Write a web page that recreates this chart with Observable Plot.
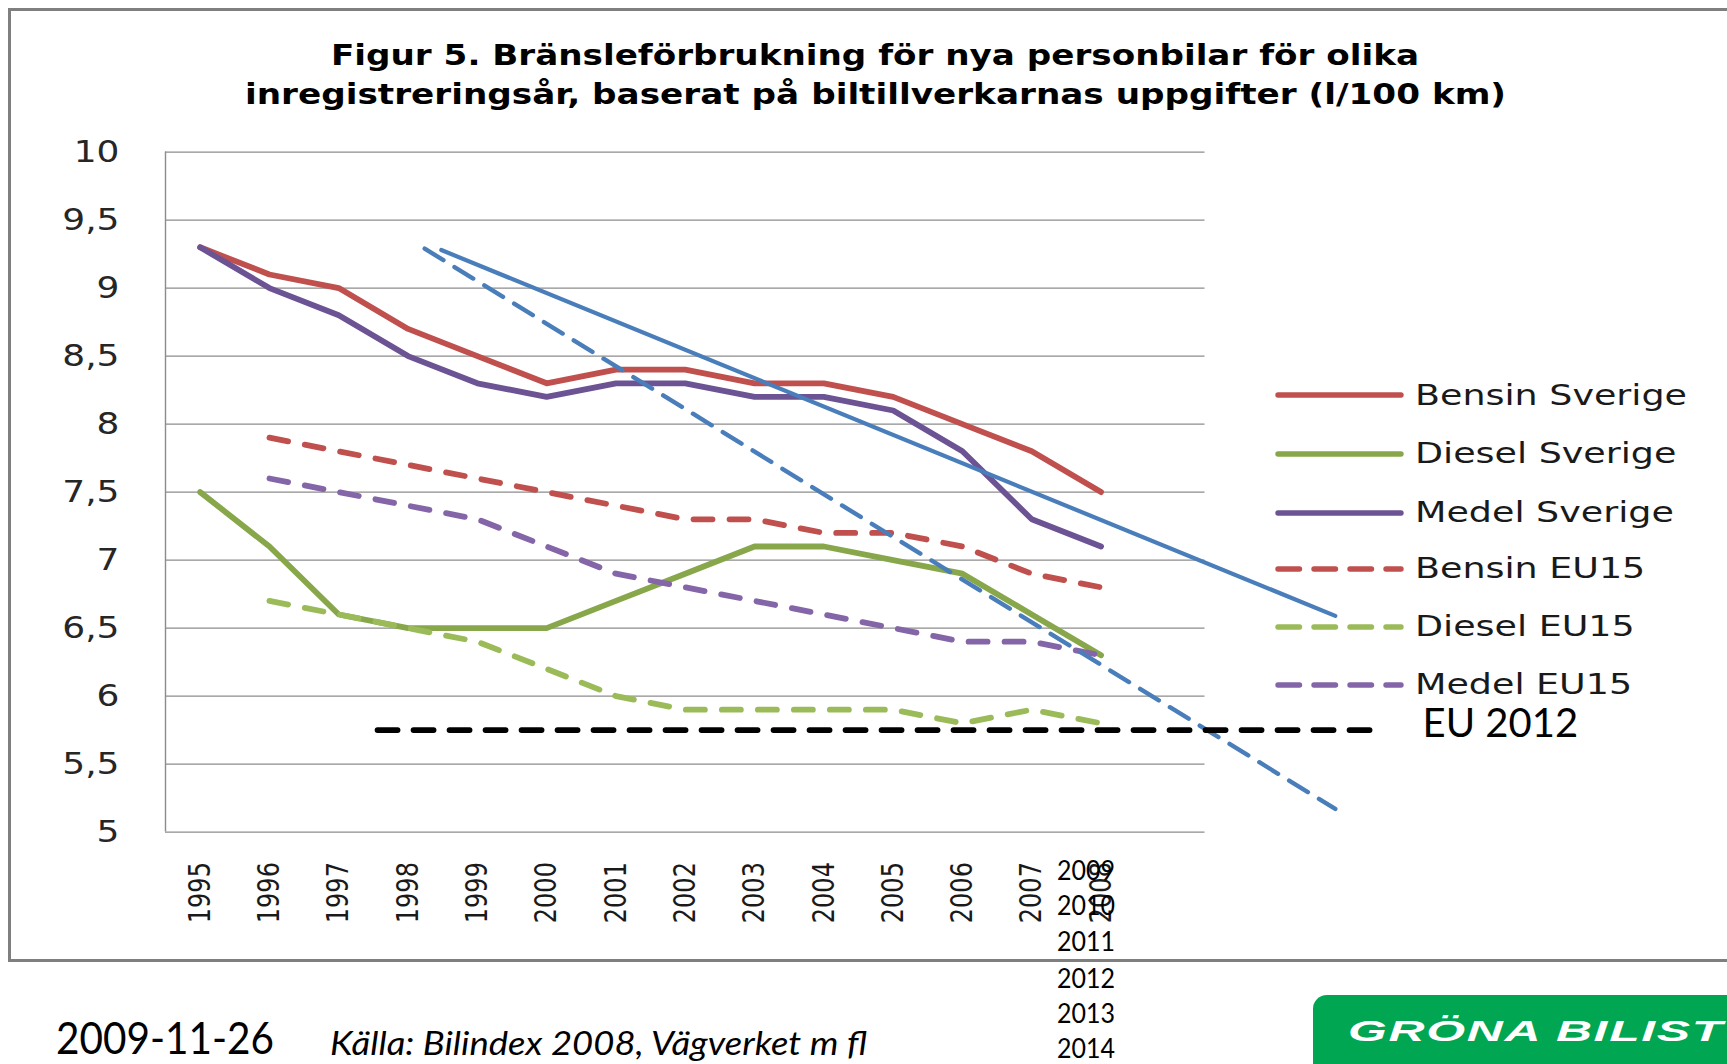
<!DOCTYPE html>
<html>
<head>
<meta charset="utf-8">
<script src="https://cdn.jsdelivr.net/npm/d3@7"></script>
<script src="https://cdn.jsdelivr.net/npm/@observablehq/plot@0.6"></script>
<style>
  html, body { margin: 0; padding: 0; background: #fff; }
  #page { position: relative; width: 1727px; height: 1064px; overflow: hidden; background: #fff; }
  #frame { position: absolute; left: 8px; top: 8px; width: 1800px; height: 947.6px; border: 3.7px solid #7f7f7f; border-right: none; }
  #chart { position: absolute; left: 0; top: 0; }
  .txt { position: absolute; left: 0; top: 0; white-space: nowrap; line-height: normal; }
  .title { font-family: "DejaVu Sans", Verdana, sans-serif; font-weight: bold; font-size: 28px; color: #000; }
  .leg { font-family: "DejaVu Sans", Verdana, sans-serif; font-size: 28.5px; color: #1a1a1a; }
  .sw { position: absolute; }
  .cal { font-family: Lato, "Open Sans", sans-serif; color: #000; }
  .yr { font-size: 26px; }
  .date { font-size: 44px; }
  .src { font-size: 33px; font-style: italic; }
  #logo { position: absolute; left: 1313px; top: 995px; width: 500px; height: 120px; border-radius: 14px; background: #00a651; }
  .logotxt { font-family: "Liberation Sans", Arial, sans-serif; font-weight: bold; font-style: italic; font-size: 30px; letter-spacing: 1px; color: #fff; }
</style>
</head>
<body>
<div id="page">
  <div id="frame"></div>
  <div id="chart"></div>
  <div id="logo"></div>
</div>
<script>
// ---------- data ----------
const years = [1995, 1996, 1997, 1998, 1999, 2000, 2001, 2002, 2003, 2004, 2005, 2006, 2007, 2008];
const eu15Years = [1996, 1997, 1998, 1999, 2000, 2001, 2002, 2003, 2004, 2005, 2006, 2007, 2008];

const bensinSverige = [9.3, 9.1, 9.0, 8.7, 8.5, 8.3, 8.4, 8.4, 8.3, 8.3, 8.2, 8.0, 7.8, 7.5];
const dieselSverige = [7.5, 7.1, 6.6, 6.5, 6.5, 6.5, 6.7, 6.9, 7.1, 7.1, 7.0, 6.9, 6.6, 6.3];
const medelSverige  = [9.3, 9.0, 8.8, 8.5, 8.3, 8.2, 8.3, 8.3, 8.2, 8.2, 8.1, 7.8, 7.3, 7.1];
const bensinEU15    = [7.9, 7.8, 7.7, 7.6, 7.5, 7.4, 7.3, 7.3, 7.2, 7.2, 7.1, 6.9, 6.8];
const dieselEU15    = [6.7, 6.6, 6.5, 6.4, 6.2, 6.0, 5.9, 5.9, 5.9, 5.9, 5.8, 5.9, 5.8];
const medelEU15     = [7.6, 7.5, 7.4, 7.3, 7.1, 6.9, 6.8, 6.7, 6.6, 6.5, 6.4, 6.4, 6.3];

const seriesNames  = ["Bensin Sverige", "Diesel Sverige", "Medel Sverige", "Bensin EU15", "Diesel EU15", "Medel EU15"];
const seriesColors = ["#c0504d", "#87a74a", "#6b5394", "#c0504d", "#9bbb59", "#8466a8"];
const seriesDashed = [false, false, false, true, true, true];

const yTicks = [5, 5.5, 6, 6.5, 7, 7.5, 8, 8.5, 9, 9.5, 10];

// hand-drawn trend lines and the EU 2012 target (in year / l per 100 km)
const trendSolid  = [{year: 1998.48, value: 9.28}, {year: 2011.38, value: 6.59}];
const trendDashed = [{year: 1998.24, value: 9.29}, {year: 2011.38, value: 5.17}];
const euTarget    = [{year: 1997.56, value: 5.75}, {year: 2011.93, value: 5.75}];
const euLabel     = [{year: 2012.64, value: 5.79, text: "EU 2012"}];

const titleLines = ["Figur 5. Bränsleförbrukning för nya personbilar för olika",
                    "inregistreringsår, baserat på biltillverkarnas uppgifter (l/100 km)"];
const extraYears = ["2009", "2010", "2011", "2012", "2013", "2014"];
const dateText = "2009-11-26";
const sourceText = "Källa: Bilindex 2008, Vägverket m fl";
const logoText = "GRÖNA BILIST";

// ---------- table ----------
const seriesValues = [bensinSverige, dieselSverige, medelSverige, bensinEU15, dieselEU15, medelEU15];
const table = [];
seriesNames.forEach((name, i) => {
  const xs = i < 3 ? years : eu15Years;
  seriesValues[i].forEach((v, j) => table.push({series: name, year: xs[j], value: v}));
});

const lineMarks = seriesNames.map((name, i) =>
  Plot.line(table.filter(d => d.series === name), {
    x: "year", y: "value",
    stroke: seriesColors[i], strokeWidth: 5.8,
    strokeLinecap: "round", strokeLinejoin: "round",
    strokeDasharray: seriesDashed[i] ? "19 17" : null
  })
);

const chart = Plot.plot({
  width: 1727,
  height: 960,
  marginLeft: 165,
  marginRight: 522.5,
  marginTop: 151.6,
  marginBottom: 128.4,
  style: {background: "transparent", fontFamily: "'DejaVu Sans', Verdana, sans-serif", overflow: "visible"},
  x: {type: "linear", domain: [1994.5, 2009.5]},
  y: {domain: [5, 10]},
  marks: [
    Plot.gridY(yTicks, {stroke: "#8c8c8c", strokeOpacity: 1, strokeWidth: 1.4}),
    Plot.ruleX([1994.5], {y1: 5, y2: 10, stroke: "#8c8c8c", strokeWidth: 1.4}),
    Plot.axisY({ticks: yTicks, tickSize: 0, tickPadding: 46, label: null, fontSize: 29.5, fill: "#262626",
      tickFormat: d => String(d).replace(".", ",")}),
    Plot.axisX({ticks: years, tickSize: 0, tickPadding: 30, tickRotate: -90, label: null, fontSize: 24, fill: "#1a1a1a",
      tickFormat: d => String(d)}),
    ...lineMarks,
    Plot.line(trendSolid, {x: "year", y: "value", stroke: "#4a7ebb", strokeWidth: 4.2}),
    Plot.line(trendDashed, {x: "year", y: "value", stroke: "#4a7ebb", strokeWidth: 4.4, strokeDasharray: "22 13"}),
    Plot.line(euTarget, {x: "year", y: "value", stroke: "#000", strokeWidth: 5.8, strokeDasharray: "20 16"}),
    Plot.text(euLabel, {x: "year", y: "value", text: "text", textAnchor: "start", fontSize: 40,
      fontFamily: "Lato, 'Open Sans', sans-serif", fill: "#000"})
  ]
});
document.getElementById("chart").appendChild(chart);

// horizontal stretch of the original chart's text
d3.select(chart).selectAll('g[aria-label="y-axis tick label"] text').each(function () {
  const t = this.getAttribute("transform") || "";
  this.setAttribute("transform", t + " scale(1.22,1)");
});
d3.select(chart).selectAll('g[aria-label="x-axis tick label"] text').each(function () {
  const t = this.getAttribute("transform") || "";
  this.setAttribute("transform", t + " scale(1,1.26)");
});

// ---------- HTML text helpers ----------
const page = document.getElementById("page");
function addText(cls, text, opts) {
  const el = document.createElement("div");
  el.className = "txt " + cls;
  el.textContent = text;
  page.appendChild(el);
  const marker = document.createElement("span");
  marker.style.cssText = "display:inline-block;width:0;height:0;vertical-align:baseline";
  el.appendChild(marker);
  const r = el.getBoundingClientRect();
  const m = marker.getBoundingClientRect();
  const base = m.top - r.top;
  const s = opts.width ? opts.width / r.width : (opts.scale || 1);
  el.style.transformOrigin = "0 0";
  el.style.transform = `scaleX(${s})`;
  el.dataset.scale = s;
  const sw = r.width * s;
  const x = opts.left != null ? opts.left : opts.center != null ? opts.center - sw / 2 : opts.right - sw;
  el.style.left = x + "px";
  el.style.top = (opts.baseline - base) + "px";
  return el;
}

// title
addText("title", titleLines[0], {center: 875, baseline: 65, width: 1088});
addText("title", titleLines[1], {center: 875, baseline: 104, width: 1261});

// legend
const legendRows = [395.4, 454.2, 513, 569.2, 627.3, 685];
const legSvgNS = "http://www.w3.org/2000/svg";
let legScale = null;
seriesNames.forEach((name, i) => {
  const svg = document.createElementNS(legSvgNS, "svg");
  svg.setAttribute("class", "sw");
  svg.setAttribute("width", 140);
  svg.setAttribute("height", 12);
  svg.style.left = "1270px";
  svg.style.top = (legendRows[i] - 6) + "px";
  const ln = document.createElementNS(legSvgNS, "line");
  ln.setAttribute("x1", 8); ln.setAttribute("x2", 131);
  ln.setAttribute("y1", 6); ln.setAttribute("y2", 6);
  ln.setAttribute("stroke", seriesColors[i]);
  ln.setAttribute("stroke-width", 5.4);
  ln.setAttribute("stroke-linecap", "round");
  if (seriesDashed[i]) ln.setAttribute("stroke-dasharray", "21.5 14.5");
  svg.appendChild(ln);
  page.appendChild(svg);
  if (legScale === null) {
    const probe = addText("leg", name, {left: 1414.5, baseline: legendRows[i] + 9.1, width: 272});
    legScale = parseFloat(probe.dataset.scale);
  } else {
    addText("leg", name, {left: 1414.5, baseline: legendRows[i] + 9.1, scale: legScale});
  }
});

// stray year labels
const extraBase = [879.5, 914.5, 951, 987.5, 1022.5, 1057.5];
extraYears.forEach((t, i) => {
  addText("cal yr", t, {left: 1057, baseline: extraBase[i], width: 58});
});

// footer
addText("cal date", dateText, {left: 56, baseline: 1054, width: 218});
addText("cal src", sourceText, {left: 330, baseline: 1055, width: 537});
addText("logotxt", logoText, {left: 1348, baseline: 1041, width: 376});
</script>
</body>
</html>
